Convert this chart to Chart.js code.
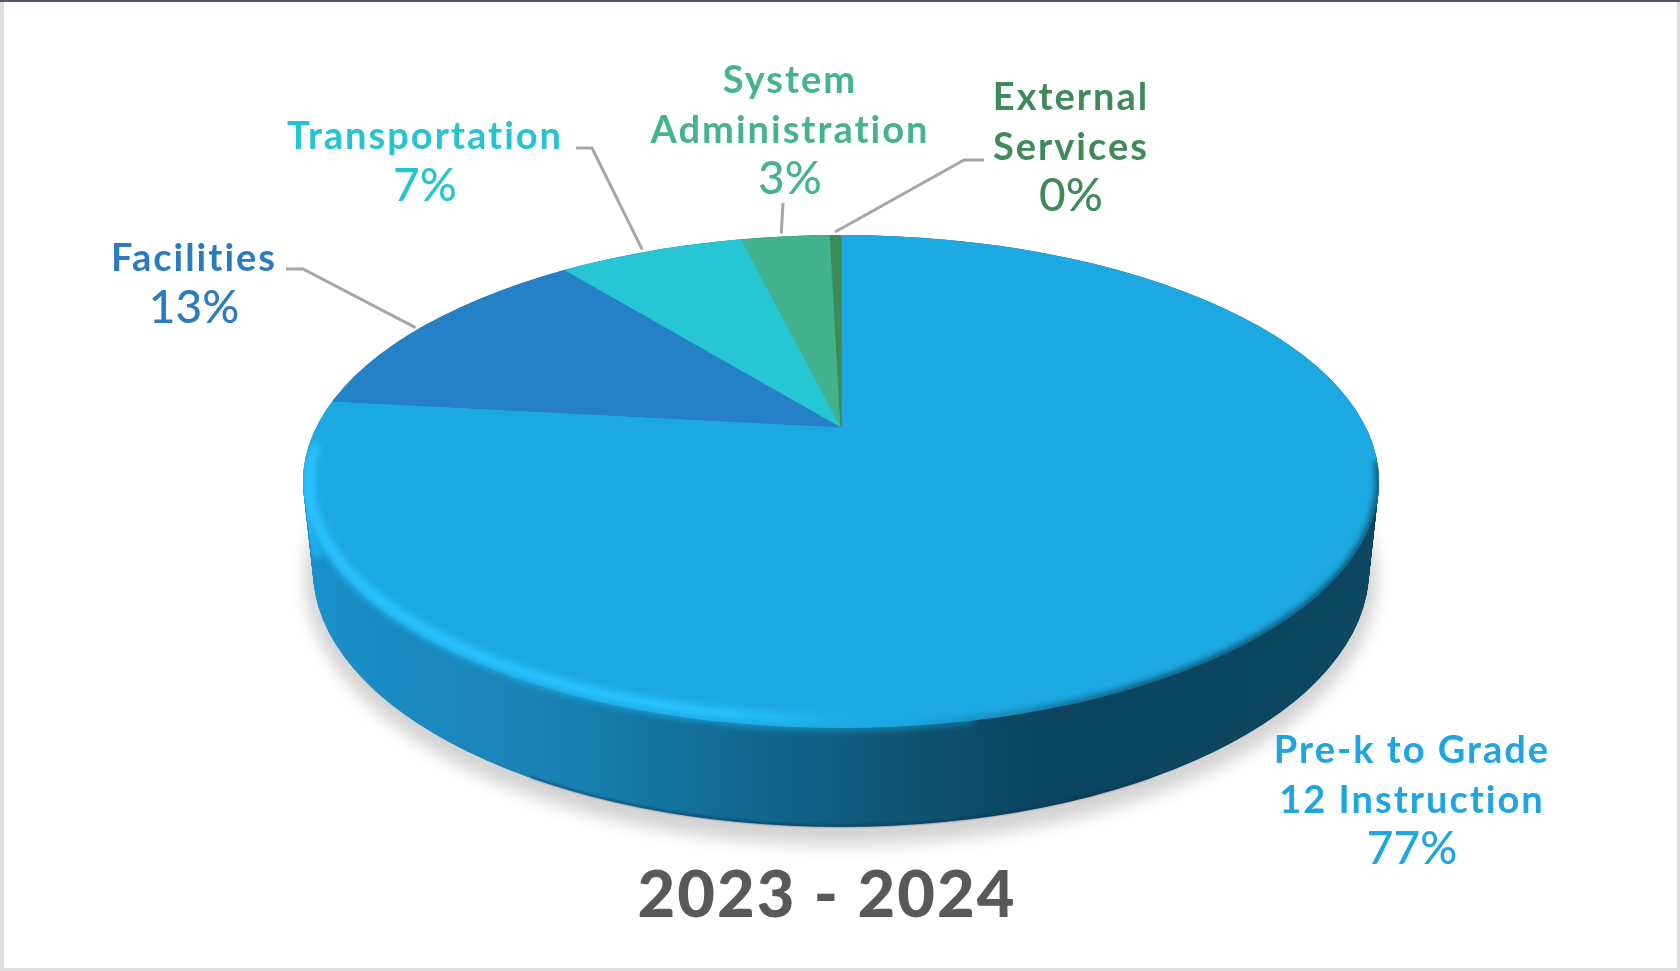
<!DOCTYPE html>
<html>
<head>
<meta charset="utf-8">
<title>2023 - 2024</title>
<script src="https://cdn.jsdelivr.net/npm/chart.js@4"></script>
<style>
    html, body { margin: 0; padding: 0; background: #fff; }
    canvas { display: block; }
</style>
</head>
<body>
<canvas id="Chart" width="1680" height="971"></canvas>
<script>
const categories = ["Pre-k to Grade 12 Instruction", "Facilities", "Transportation", "System Administration", "External Services"];
const shares = [76.8, 12.6, 6.9, 3.3, 0.4];
const sliceColors = ["#1CA9E2", "#2580C6", "#26C6D4", "#42B28C", "#3E8A58"];
const textColors = ["#1FA5DF", "#2A7BC0", "#26C3D0", "#45B391", "#3E8A58"];
const labelLines = [["Pre-k to Grade", "12 Instruction"], ["Facilities"], ["Transportation"], ["System", "Administration"], ["External", "Services"]];
const yearTitle = "2023 - 2024";

// where each label block sits: centre x and the first baseline
const labelSpots = [
    { x: 1412, y: 763 },
    { x: 194, y: 271 },
    { x: 425, y: 149 },
    { x: 790, y: 93 },
    { x: 1071, y: 110 },
];
// leader start points, running from the label to the slice edge
const leaders = [
    null,
    [[286, 269], [303, 269]],
    [[576, 148], [592, 148]],
    [[783, 203]],
    [[984, 160], [964, 160]],
];
const leaderAnchor = 0.45;

// tilted disc: a flat circle seen in perspective
const disc = { cx: 841, cy: 427, a: 524.7, b: 234.5, k: 0.221 };
const rim = {
    x: disc.cx,
    y: disc.cy + disc.b * disc.k / (1 - disc.k * disc.k),
    rx: disc.a / Math.sqrt(1 - disc.k * disc.k),
    ry: disc.b / (1 - disc.k * disc.k),
};
const base = { x: disc.cx, y: 570, rx: 528, ry: 257 };

function project(u, v) {
    const s = 1 / (1 - disc.k * v);
    return { x: disc.cx + disc.a * u * s, y: disc.cy + disc.b * v * s };
}

function drawWall(ctx) {
    const grad = ctx.createLinearGradient(rim.x - rim.rx, 0, rim.x + rim.rx, 0);
    grad.addColorStop(0, "#1A90CC");
    grad.addColorStop(0.23, "#1A82B2");
    grad.addColorStop(0.276, "#157CAB");
    grad.addColorStop(0.415, "#11688F");
    grad.addColorStop(0.55, "#0F5574");
    grad.addColorStop(0.69, "#0B4460");
    grad.addColorStop(1, "#0D4761");

    // soft shadow under the disc
    ctx.save();
    ctx.filter = "blur(8px)";
    ctx.fillStyle = "rgba(70,70,70,0.24)";
    ctx.beginPath();
    ctx.ellipse(base.x, base.y + 8, base.rx + 8, base.ry + 10, 0, 0, Math.PI * 2);
    ctx.fill();
    ctx.restore();

    // stack of ellipses from the base up to the rim
    ctx.fillStyle = grad;
    const steps = 90;
    for (let i = 0; i <= steps; i++) {
        const t = i / steps;
        ctx.beginPath();
        ctx.ellipse(rim.x, base.y + (rim.y - base.y) * t, base.rx + (rim.rx - base.rx) * t, base.ry + (rim.ry - base.ry) * t, 0, 0, Math.PI * 2);
        ctx.fill();
    }

    // darker lip along the bottom edge
    ctx.save();
    ctx.filter = "blur(1px)";
    ctx.strokeStyle = "rgba(10,50,75,0.6)";
    ctx.lineWidth = 2;
    ctx.beginPath();
    ctx.ellipse(base.x, base.y - 1, base.rx, base.ry, 0, Math.PI * 0.3, Math.PI * 0.7);
    ctx.stroke();
    ctx.restore();
}

// redraws the flat pie row by row so it lies on the tilted disc
function drawTop(ctx, flat, arc) {
    const r = arc.outerRadius - 3;
    ctx.save();
    ctx.beginPath();
    ctx.ellipse(rim.x, rim.y, rim.rx, rim.ry, 0, 0, Math.PI * 2);
    ctx.clip();
    const top = Math.floor(rim.y - rim.ry) - 1;
    const bottom = Math.ceil(rim.y + rim.ry) + 1;
    for (let y = top; y < bottom; y++) {
        const d0 = y - disc.cy;
        const d1 = y + 1 - disc.cy;
        const v0 = d0 / (disc.b + disc.k * d0);
        const v1 = d1 / (disc.b + disc.k * d1);
        const s = 1 / (1 - disc.k * (v0 + v1) / 2);
        const half = disc.a * s;
        ctx.drawImage(flat, arc.x - r, arc.y + r * v0, 2 * r, r * (v1 - v0), disc.cx - half, y, 2 * half, 1.4);
    }
    ctx.restore();
}

// bright bevel on the lower left of the rim, dark one on the lower right
function drawBevel(ctx) {
    ctx.save();
    // keep the blur inside the outline of the whole disc
    ctx.beginPath();
    ctx.ellipse(rim.x, rim.y, rim.rx, rim.ry, 0, 0, Math.PI * 2);
    ctx.closePath();
    ctx.ellipse(base.x, base.y, base.rx, base.ry, 0, 0, Math.PI * 2);
    ctx.closePath();
    ctx.moveTo(rim.x + rim.rx, rim.y);
    ctx.lineTo(base.x + base.rx, base.y);
    ctx.lineTo(base.x - base.rx, base.y);
    ctx.lineTo(rim.x - rim.rx, rim.y);
    ctx.closePath();
    ctx.clip();

    // soft seam where the top meets the wall
    ctx.filter = "blur(3px)";
    ctx.strokeStyle = "rgba(28,169,226,0.7)";
    ctx.lineWidth = 5;
    ctx.beginPath();
    ctx.ellipse(rim.x, rim.y, rim.rx, rim.ry, 0, Math.PI * 0.42, Math.PI);
    ctx.stroke();

    // the bevel runs out over the wall at the far left
    ctx.strokeStyle = "#22B4F0";
    ctx.lineWidth = 8;
    ctx.beginPath();
    ctx.ellipse(rim.x, rim.y + 22, rim.rx - 3, rim.ry, 0, Math.PI * 0.93, Math.PI * 1.05);
    ctx.stroke();

    const glow = ctx.createLinearGradient(rim.x - rim.rx, 0, rim.x + 20, 0);
    glow.addColorStop(0, "rgba(42,194,255,1)");
    glow.addColorStop(0.75, "rgba(42,194,255,1)");
    glow.addColorStop(1, "rgba(42,194,255,0)");
    ctx.filter = "blur(3.5px)";
    ctx.strokeStyle = glow;
    ctx.lineWidth = 11;
    ctx.beginPath();
    ctx.ellipse(rim.x, rim.y, rim.rx - 6, rim.ry - 9, 0, Math.PI * 0.42, Math.PI * 1.05);
    ctx.stroke();

    const dark = ctx.createLinearGradient(rim.x + 60, 0, rim.x + 300, 0);
    dark.addColorStop(0, "rgba(13,71,97,0)");
    dark.addColorStop(1, "rgba(13,71,97,0.9)");
    ctx.filter = "blur(3px)";
    ctx.strokeStyle = dark;
    ctx.lineWidth = 7;
    ctx.beginPath();
    ctx.ellipse(rim.x, rim.y, rim.rx, rim.ry, 0, -0.08, Math.PI * 0.48);
    ctx.stroke();
    ctx.restore();
}

function drawLabels(ctx, meta) {
    ctx.textAlign = "center";
    ctx.textBaseline = "alphabetic";
    categories.forEach((name, i) => {
        const spot = labelSpots[i];
        ctx.fillStyle = textColors[i];
        ctx.font = "bold 38px Lato";
        ctx.letterSpacing = "2px";
        labelLines[i].forEach((line, n) => ctx.fillText(line, spot.x, spot.y + n * 49.5));
        ctx.font = "500 46px Lato";
        ctx.letterSpacing = "0px";
        ctx.fillText(Math.round(shares[i]) + "%", spot.x, spot.y + labelLines[i].length * 49.5 + 2);
    });

    ctx.strokeStyle = "#A6A6A6";
    ctx.lineWidth = 3;
    leaders.forEach((points, i) => {
        if (!points) return;
        const arc = meta.data[i];
        const at = arc.startAngle + (arc.endAngle - arc.startAngle) * leaderAnchor;
        const end = project(Math.cos(at), Math.sin(at));
        ctx.beginPath();
        points.forEach((p, n) => (n ? ctx.lineTo(p[0], p[1]) : ctx.moveTo(p[0], p[1])));
        ctx.lineTo(end.x, end.y - 3);
        ctx.stroke();
    });

    ctx.fillStyle = "#595959";
    ctx.font = "900 65px Lato";
    ctx.letterSpacing = "2px";
    ctx.fillText(yearTitle, 827, 917);
    ctx.letterSpacing = "0px";
}

function drawFrame(ctx) {
    ctx.fillStyle = "#DDDDDD";
    ctx.fillRect(0, 0, 4, 971);
    ctx.fillRect(1677, 0, 3, 971);
    ctx.fillRect(0, 968, 1680, 3);
    ctx.fillStyle = "#55556E";
    ctx.fillRect(0, 0, 1680, 2);
}

const tiltedPie = {
    id: "tiltedPie",
    afterDatasetsDraw(chart) {
        const ctx = chart.ctx;
        const meta = chart.getDatasetMeta(0);
        const flat = document.createElement("canvas");
        flat.width = chart.canvas.width;
        flat.height = chart.canvas.height;
        flat.getContext("2d").drawImage(chart.canvas, 0, 0);

        ctx.fillStyle = "#fff";
        ctx.fillRect(0, 0, flat.width, flat.height);
        drawWall(ctx);
        drawTop(ctx, flat, meta.data[0]);
        drawBevel(ctx);
        drawLabels(ctx, meta);
        drawFrame(ctx);
    },
};

new Chart(document.getElementById("Chart"), {
    type: "pie",
    data: {
        labels: categories,
        datasets: [{
            data: shares,
            backgroundColor: sliceColors,
            borderColor: sliceColors,
            borderWidth: 1,
        }],
    },
    options: {
        responsive: false,
        animation: false,
        layout: { padding: 0 },
        plugins: {
            legend: { display: false },
            tooltip: { enabled: false },
        },
    },
    plugins: [tiltedPie],
});
</script>
</body>
</html>
